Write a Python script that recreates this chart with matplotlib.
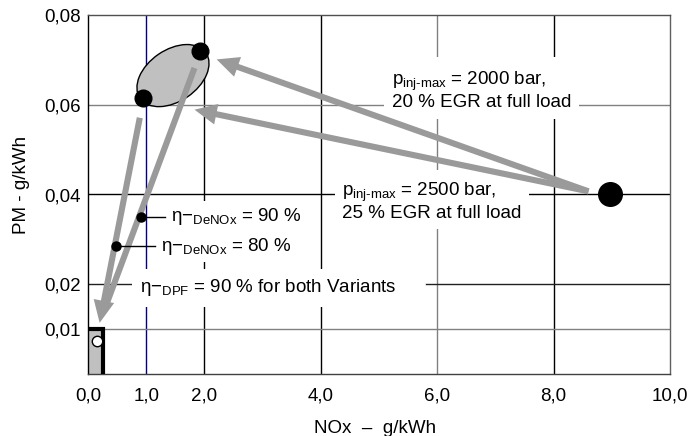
"""
PM / NOx trade-off: Ausgangspunkt, Varianten, DeNOx- und DPF-Wirkung.
"""

import matplotlib
matplotlib.use("Agg")
import matplotlib.pyplot as plt
import matplotlib.transforms as mtransforms
from matplotlib.patches import Ellipse, Rectangle, FancyArrowPatch

plt.rcParams["font.family"] = ["Liberation Sans", "DejaVu Sans"]
plt.rcParams["mathtext.fontset"] = "custom"
plt.rcParams["mathtext.rm"] = "Liberation Sans"
plt.rcParams["mathtext.it"] = "Liberation Sans:italic"
plt.rcParams["mathtext.bf"] = "Liberation Sans:bold"

# --- Achsen ---
x_ticks = [0, 1, 2, 4, 6, 8, 10]
x_tick_labels = ["0,0", "1,0", "2,0", "4,0", "6,0", "8,0", "10,0"]
y_ticks = [0.01, 0.02, 0.04, 0.06, 0.08]
y_tick_labels = ["0,01", "0,02", "0,04", "0,06", "0,08"]

# --- Daten ---
base_nox, base_pm = 8.97, 0.040                 # Ausgangspunkt
variant_nox = [0.94, 1.92]                      # 2500 bar / 2000 bar Varianten
variant_pm = [0.0614, 0.072]
cloud_nox, cloud_pm = 1.46, 0.0665              # Streubereich der Varianten
denox_nox = [0.91, 0.48]
denox_pm = [0.035, 0.0285]
denox_eff = ["90 %", "80 %"]
denox_label_nox = [1.32, 1.15]                  # Ende der Hinweislinie
dpf_nox, dpf_pm = 0.15, 0.0074
limit_nox, limit_pm = 0.25, 0.01                # Grenzwertfeld

# Pfeile (Start -> Ziel)
arrow_start = [(8.6, 0.0407), (8.6, 0.0407), (0.89, 0.0571)]
arrow_end = [(2.21, 0.0701), (1.83, 0.0589), (0.20, 0.0114)]
# zweiter Ast in den DPF-Pfeil (ohne Spitze)
branch_start = (1.83, 0.0682)
branch_end = (0.33, 0.0160)

GRAY_ARROW = "#9a9a9a"

fig = plt.figure(figsize=(6.91, 4.36), dpi=100)
ax = fig.add_axes([88 / 691, 1 - 374 / 436, 582 / 691, 359 / 436])
ax.set_xlim(0, 10)
ax.set_ylim(0, 0.08)

# Gitter von Hand (Farben wie im Original)
for xv, col in zip([1, 2, 4, 6, 8], ["#000080", "black", "black", "#808080", "black"]):
    ax.axvline(xv, color=col, lw=1.0, zorder=1)
for yv, col in zip([0.01, 0.04, 0.06], ["#808080", "black", "#808080"]):
    ax.axhline(yv, color=col, lw=1.0, zorder=1)
ax.plot([0, 0.75], [0.02, 0.02], color="#202020", lw=1.0, zorder=1)
ax.plot([5.8, 10], [0.02, 0.02], color="#202020", lw=1.0, zorder=1)

for side, col in [("left", "black"), ("bottom", "#404040"),
                  ("top", "#505050"), ("right", "#606060")]:
    ax.spines[side].set_color(col)
    ax.spines[side].set_linewidth(1.0)

ax.set_xticks(x_ticks)
ax.set_xticklabels(x_tick_labels)
ax.set_yticks(y_ticks)
ax.set_yticklabels(y_tick_labels)
ax.tick_params(length=0, labelsize=13.5)
ax.tick_params(axis="x", pad=10)
ax.tick_params(axis="y", pad=5)

ax.set_xlabel("NOx  \u2013  g/kWh", fontsize=13.5)
ax.set_ylabel("PM - g/kWh", fontsize=13.5)
ax.xaxis.set_label_coords(0.493, -0.128)
ax.yaxis.set_label_coords(-0.1, 0.526)

# Grenzwertfeld
ax.add_patch(Rectangle((0, 0), limit_nox, limit_pm, facecolor="#c0c0c0",
                       edgecolor="none", zorder=2))
ax.plot([0, limit_nox, limit_nox], [limit_pm, limit_pm, 0], color="black",
        lw=3, solid_capstyle="butt", solid_joinstyle="miter", zorder=3, clip_on=False)
ax.plot([dpf_nox], [dpf_pm], "o", ms=7.5, mfc="white", mec="black", mew=1, zorder=5)

# Streubereich (Ellipse in Zoll, Mittelpunkt in Daten)
trans = fig.dpi_scale_trans + mtransforms.ScaledTranslation(cloud_nox, cloud_pm, ax.transData)
ax.add_patch(Ellipse((0, 0), 0.80, 0.515, angle=34.5, transform=trans,
                     facecolor="#c0c0c0", edgecolor="black", lw=1.0, zorder=2))

# Pfeile
for s, e in zip(arrow_start, arrow_end):
    ax.add_patch(FancyArrowPatch(s, e, arrowstyle="simple,head_length=0.8,head_width=0.75,tail_width=0.22",
                                 mutation_scale=20, color=GRAY_ARROW, lw=0,
                                 shrinkA=0, shrinkB=0, zorder=4))
ax.plot([branch_start[0], branch_end[0]], [branch_start[1], branch_end[1]],
        color=GRAY_ARROW, lw=4.4, solid_capstyle="butt", zorder=4)

# Punkte
ax.plot([base_nox], [base_pm], "o", ms=17, color="black", zorder=6)
ax.plot(variant_nox, variant_pm, "o", ms=12, color="black", zorder=6)
ax.plot(denox_nox, denox_pm, "o", ms=6.5, color="black", zorder=6)
for xn, yp, xe in zip(denox_nox, denox_pm, denox_label_nox):
    ax.plot([xn, xe], [yp, yp], color="black", lw=1.0, zorder=5)

box = dict(facecolor="white", edgecolor="none", pad=4)
for xe, yp, eff in zip(denox_label_nox, denox_pm, denox_eff):
    ax.text(xe + 0.1, yp, "\u03b7\u2212$_{\\mathrm{DeNOx}}$ = " + eff, fontsize=13.5,
            va="center", ha="left", bbox=box, zorder=3)

ax.text(0.89, 0.0192, "\u03b7\u2212$_{\\mathrm{DPF}}$ = 90 % for both Variants", fontsize=13.5,
        va="center", ha="left", bbox=dict(facecolor="white", edgecolor="none", pad=6), zorder=3)

ax.text(5.22, 0.0632, "p$_{\\mathrm{inj\\text{-}max}}$ = 2000 bar,\n20 % EGR at full load",
        fontsize=13.5, va="center", ha="left", linespacing=1.1,
        bbox=dict(facecolor="white", edgecolor="none", pad=6), zorder=3)
ax.text(4.37, 0.0385, "p$_{\\mathrm{inj\\text{-}max}}$ = 2500 bar,\n25 % EGR at full load",
        fontsize=13.5, va="center", ha="left", linespacing=1.1,
        bbox=dict(facecolor="white", edgecolor="none", pad=5), zorder=3)

fig.savefig("out.png", dpi=100)
